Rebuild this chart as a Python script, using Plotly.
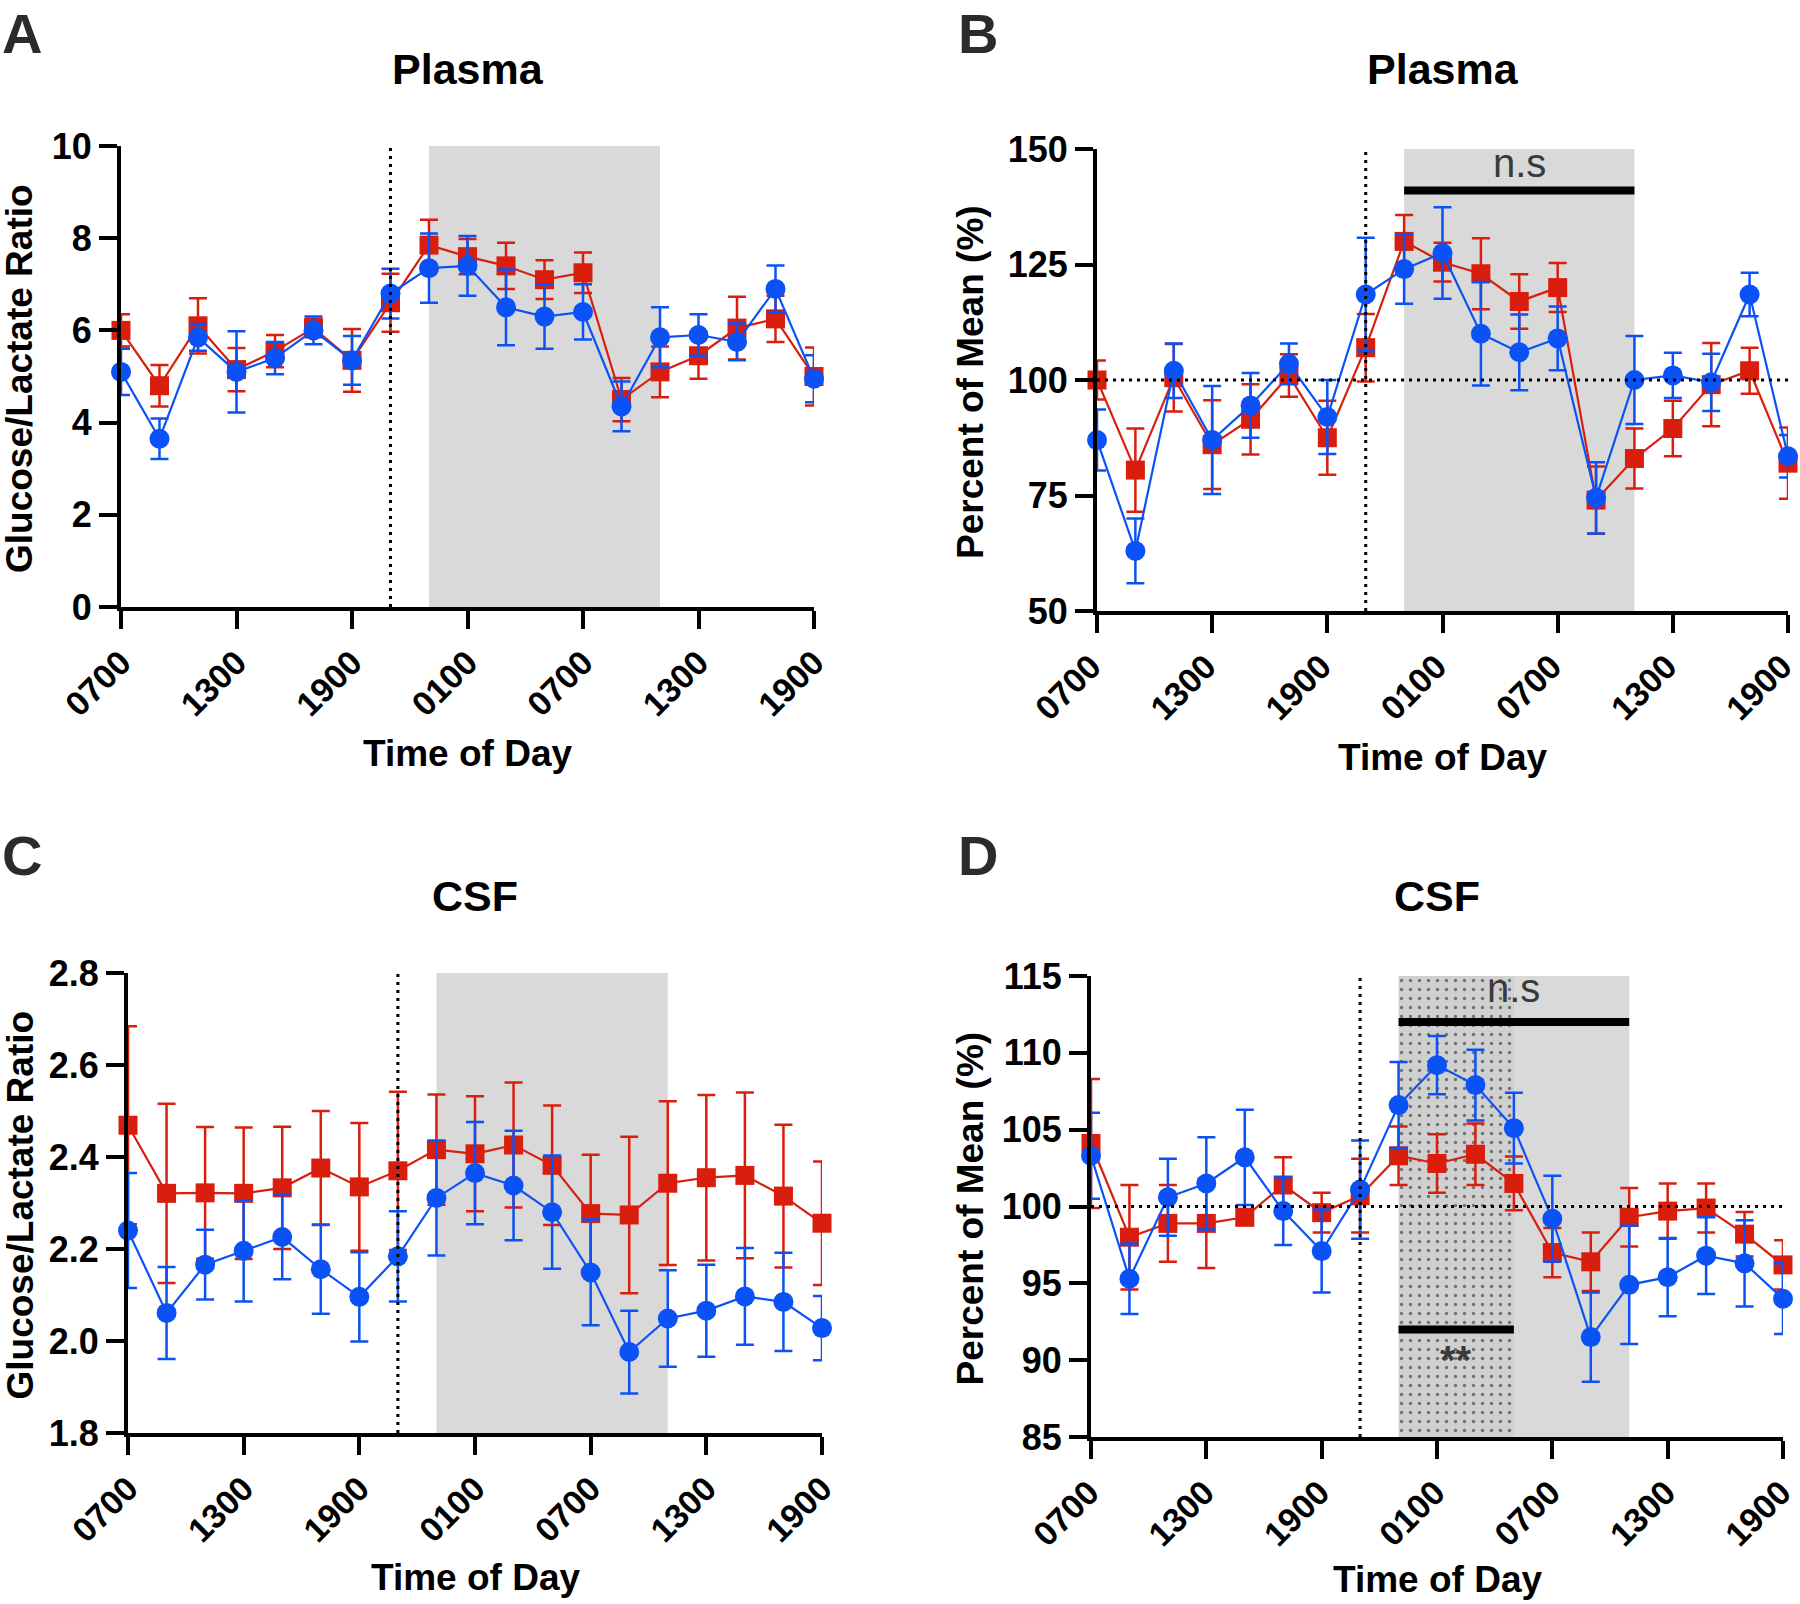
import plotly.graph_objects as go

W, H = 1800, 1604

# ---------------- data ----------------
hours = [0, 2, 4, 6, 8, 10, 12, 14, 16, 18, 20, 22, 24, 26, 28, 30, 32, 34, 36]
x_tick_vals = [0, 6, 12, 18, 24, 30, 36]
x_tick_text = ["0700", "1300", "1900", "0100", "0700", "1300", "1900"]

# Panel A: Plasma glucose/lactate ratio
a_red = [6.0, 4.8, 6.1, 5.15, 5.55, 6.05, 5.35, 6.6, 7.85, 7.6, 7.4, 7.1, 7.25, 4.5, 5.1, 5.45, 6.05, 6.25, 5.0]
a_red_err = [0.35, 0.45, 0.6, 0.47, 0.35, 0.2, 0.68, 0.63, 0.55, 0.38, 0.5, 0.42, 0.44, 0.47, 0.55, 0.5, 0.68, 0.5, 0.63]
a_blue = [5.1, 3.65, 5.85, 5.1, 5.4, 6.0, 5.35, 6.8, 7.35, 7.4, 6.5, 6.3, 6.4, 4.35, 5.85, 5.9, 5.75, 6.9, 4.95]
a_blue_err = [0.5, 0.44, 0.29, 0.88, 0.35, 0.3, 0.53, 0.54, 0.75, 0.65, 0.82, 0.7, 0.6, 0.54, 0.65, 0.45, 0.4, 0.51, 0.51]

# Panel B: Plasma percent of mean
b_red = [100, 80.5, 100.5, 86, 91.5, 101, 87.5, 107, 130, 125.5, 123, 117, 120, 74, 83, 89.5, 99, 102, 82]
b_red_err = [4.2, 9, 7.3, 9.6, 7.6, 4.6, 8, 7.3, 5.7, 4.2, 7.7, 5.9, 5.3, 7.3, 6.5, 6, 9, 5, 7.7]
b_blue = [87, 63, 102, 87, 94.5, 103.5, 92, 118.5, 124, 127.5, 110, 106, 109, 74.5, 100, 101, 99.5, 118.5, 83.5]
b_blue_err = [6.6, 7, 5.9, 11.7, 7, 4.4, 8, 12.3, 7.5, 9.9, 11.2, 8.2, 6.9, 7.7, 9.5, 4.9, 6.2, 4.7, 4.6]

# Panel C: CSF glucose/lactate ratio
c_red = [2.469, 2.321, 2.322, 2.321, 2.333, 2.376, 2.335, 2.37, 2.416, 2.407, 2.426, 2.382, 2.277, 2.274, 2.343, 2.355, 2.36, 2.315, 2.256]
c_red_err = [0.215, 0.195, 0.143, 0.143, 0.133, 0.124, 0.139, 0.172, 0.12, 0.125, 0.136, 0.13, 0.128, 0.17, 0.178, 0.18, 0.18, 0.155, 0.134]
c_blue = [2.24, 2.061, 2.166, 2.196, 2.226, 2.156, 2.096, 2.184, 2.311, 2.365, 2.338, 2.28, 2.149, 1.976, 2.049, 2.066, 2.097, 2.085, 2.028]
c_blue_err = [0.125, 0.1, 0.076, 0.11, 0.092, 0.097, 0.097, 0.098, 0.125, 0.111, 0.119, 0.123, 0.115, 0.09, 0.105, 0.1, 0.105, 0.107, 0.07]

# Panel D: CSF percent of mean
d_red = [104.1, 98.0, 98.9, 98.9, 99.3, 101.4, 99.6, 100.7, 103.3, 102.8, 103.4, 101.5, 97.0, 96.4, 99.3, 99.7, 99.9, 98.2, 96.2]
d_red_err = [4.2, 3.4, 2.5, 2.9, 0.5, 1.8, 1.3, 2.4, 1.9, 1.9, 2.0, 1.75, 1.6, 1.9, 1.9, 1.8, 1.6, 1.45, 1.6]
d_blue = [103.3, 95.3, 100.6, 101.5, 103.2, 99.7, 97.1, 101.1, 106.6, 109.2, 107.9, 105.1, 99.2, 91.5, 94.9, 95.4, 96.8, 96.3, 94.0]
d_blue_err = [2.8, 2.3, 2.5, 3.0, 3.1, 2.2, 2.7, 3.2, 2.8, 1.9, 2.3, 2.3, 2.8, 2.9, 3.85, 2.55, 2.5, 2.8, 2.3]

# ---------------- style ----------------
RED = "#d91e0e"
BLUE = "#0a52f5"
FONT = "Liberation Sans"


def px(x):
    return x / W


def py(y):
    return 1 - y / H


panels = [
    dict(n="", xd=(121, 814), yd=(146, 607), yr=[0, 10], yt=[0, 2, 4, 6, 8, 10],
         ytt=["0", "2", "4", "6", "8", "10"], r=a_red, re=a_red_err, b=a_blue, be=a_blue_err,
         letter="A", title="Plasma", ytitle="Glucose/Lactate Ratio", ytx=19.5, xty=753, shift=0),
    dict(n="2", xd=(1097, 1788), yd=(149, 611), yr=[50, 150], yt=[50, 75, 100, 125, 150],
         ytt=["50", "75", "100", "125", "150"], r=b_red, re=b_red_err, b=b_blue, be=b_blue_err,
         letter="B", title="Plasma", ytitle="Percent of Mean (%)", ytx=970, xty=757, shift=-6),
    dict(n="3", xd=(128, 822), yd=(973, 1433), yr=[1.8, 2.8], yt=[1.8, 2.0, 2.2, 2.4, 2.6, 2.8],
         ytt=["1.8", "2.0", "2.2", "2.4", "2.6", "2.8"], r=c_red, re=c_red_err, b=c_blue, be=c_blue_err,
         letter="C", title="CSF", ytitle="Glucose/Lactate Ratio", ytx=19.5, xty=1577, shift=0),
    dict(n="4", xd=(1091, 1783), yd=(976, 1437), yr=[85, 115], yt=[85, 90, 95, 100, 105, 110, 115],
         ytt=["85", "90", "95", "100", "105", "110", "115"], r=d_red, re=d_red_err, b=d_blue, be=d_blue_err,
         letter="D", title="CSF", ytitle="Percent of Mean (%)", ytx=970, xty=1579, shift=-2),
]

fig = go.Figure()
shapes = []
annotations = []
layout_axes = {}

ytickfont = dict(family=FONT, size=36, color="black", weight="bold")
xtickfont = dict(family=FONT, size=34, color="black", weight="bold")

for p in panels:
    n = p["n"]
    xa, ya = "x" + n, "y" + n
    if p["letter"] == "D":
        fig.add_trace(go.Bar(
            x=[19], y=[30], base=[85], width=[6], xaxis=xa, yaxis=ya,
            marker=dict(color="#d0d0d0", line=dict(width=0),
                        pattern=dict(shape=".", fgcolor="#111111", bgcolor="#d0d0d0",
                                     size=9, solidity=0.11)),
            showlegend=False, hoverinfo="skip"))
    for vals, errs, col, sym in [(p["r"], p["re"], RED, "square"), (p["b"], p["be"], BLUE, "circle")]:
        fig.add_trace(go.Scatter(
            x=hours, y=vals, xaxis=xa, yaxis=ya, mode="lines+markers",
            line=dict(color=col, width=2.2),
            marker=dict(color=col, symbol=sym, size=19 if sym == "square" else 20, line=dict(width=0)),
            error_y=dict(type="data", array=errs, visible=True, color=col, thickness=2.5, width=9),
            cliponaxis=False, showlegend=False))

    x0, x1 = p["xd"]
    yt, yb = p["yd"]
    layout_axes["xaxis" + n] = dict(
        domain=[px(x0), px(x1)], range=[0, 36], anchor=ya, showgrid=False, zeroline=False,
        showline=True, linewidth=4, linecolor="black", ticks="outside", ticklen=18, tickwidth=4,
        tickcolor="black", tickvals=x_tick_vals, ticktext=x_tick_text, tickangle=-45,
        tickfont=xtickfont, fixedrange=True, automargin=False, ticklabeloverflow="allow",
        ticklabelshift=p["shift"])
    layout_axes["yaxis" + n] = dict(
        domain=[py(yb), py(yt)], range=p["yr"], anchor=xa, showgrid=False, zeroline=False,
        showline=True, linewidth=4, linecolor="black", ticks="outside", ticklen=18, tickwidth=4,
        tickcolor="black", tickvals=p["yt"], ticktext=p["ytt"], tickfont=ytickfont, fixedrange=True,
        automargin=False, ticklabeloverflow="allow")

    shapes.append(dict(type="rect", xref=xa, yref=ya + " domain", x0=16, x1=28, y0=0, y1=1,
                       fillcolor="#d9d9d9", line=dict(width=0), layer="below"))
    shapes.append(dict(type="line", xref=xa, yref=ya + " domain", x0=14, x1=14, y0=0, y1=1,
                       line=dict(color="black", width=3, dash="3px,5px"), layer="above"))
    if p["letter"] in ("B", "D"):
        shapes.append(dict(type="line", xref=xa, yref=ya, x0=0, x1=36, y0=100, y1=100,
                           line=dict(color="black", width=3, dash="3px,5px"), layer="above"))

    cx = (x0 + x1) / 2
    lx = 0 if p["letter"] in ("A", "C") else 956
    if p["letter"] in ("A", "B"):
        annotations.append(dict(text=p["letter"], x=px(lx), y=1.0, xref="paper", yref="paper",
                                xanchor="left", yanchor="top", showarrow=False,
                                font=dict(family=FONT, size=56, color="#2b2b2b", weight="bold")))
    else:
        annotations.append(dict(text=p["letter"], x=px(lx), y=py(855), xref="paper", yref="paper",
                                xanchor="left", yanchor="middle", showarrow=False,
                                font=dict(family=FONT, size=56, color="#2b2b2b", weight="bold")))
    ty = 69 if p["letter"] in ("A", "B") else 896
    annotations.append(dict(text=p["title"], x=px(cx), y=py(ty), xref="paper", yref="paper",
                            xanchor="center", yanchor="middle", showarrow=False,
                            font=dict(family=FONT, size=43, color="black", weight="bold")))
    annotations.append(dict(text="Time of Day", x=px(cx), y=py(p["xty"]), xref="paper", yref="paper",
                            xanchor="center", yanchor="middle", showarrow=False,
                            font=dict(family=FONT, size=37, color="black", weight="bold")))
    annotations.append(dict(text=p["ytitle"], x=px(p["ytx"]), y=py((yt + yb) / 2 + 2), xref="paper",
                            yref="paper", xanchor="center", yanchor="middle", showarrow=False,
                            textangle=-90,
                            font=dict(family=FONT, size=37, color="black", weight="bold")))

shapes.append(dict(type="line", xref="x2", yref="y2", x0=16, x1=28, y0=141, y1=141,
                   line=dict(color="black", width=8), layer="above"))
annotations.append(dict(text="n.s", x=22, y=147.0, xref="x2", yref="y2", showarrow=False,
                        xanchor="center", yanchor="middle",
                        font=dict(family=FONT, size=40, color="#3a3a3a")))
shapes.append(dict(type="line", xref="x4", yref="y4", x0=16, x1=28, y0=112, y1=112,
                   line=dict(color="black", width=8), layer="above"))
annotations.append(dict(text="n.s", x=22, y=114.2, xref="x4", yref="y4", showarrow=False,
                        xanchor="center", yanchor="middle",
                        font=dict(family=FONT, size=40, color="#3a3a3a")))
shapes.append(dict(type="line", xref="x4", yref="y4", x0=16, x1=22, y0=92, y1=92,
                   line=dict(color="black", width=8), layer="above"))
annotations.append(dict(text="**", x=19, y=90.0, xref="x4", yref="y4", showarrow=False,
                        xanchor="center", yanchor="middle",
                        font=dict(family=FONT, size=40, color="#3a3a3a", weight="bold")))

fig.update_layout(
    width=W, height=H, margin=dict(l=0, r=0, t=0, b=0, autoexpand=False),
    paper_bgcolor="white", plot_bgcolor="rgba(0,0,0,0)",
    shapes=shapes, annotations=annotations, showlegend=False, bargap=0,
    **layout_axes)

fig.write_html("out.html", config={"displayModeBar": False},
               post_script="document.body.style.margin='0';document.body.style.overflow='hidden';")
